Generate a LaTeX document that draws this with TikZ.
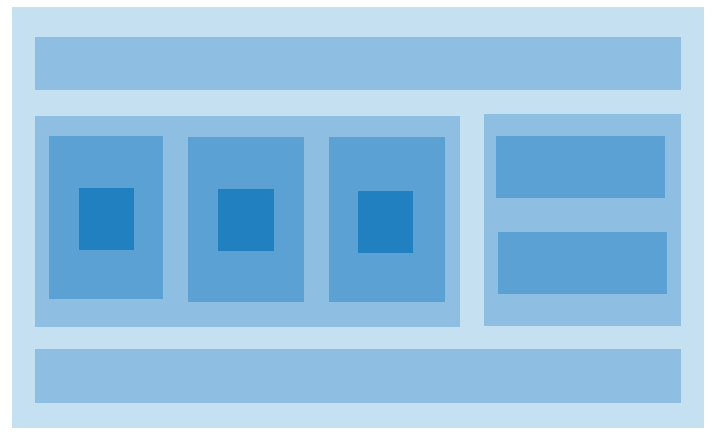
\documentclass[tikz,border=0pt]{standalone}
\definecolor{cOuter}{RGB}{197,224,241}
\definecolor{cMid}{RGB}{142,191,227}
\definecolor{cBox}{RGB}{91,161,212}
\definecolor{cDark}{RGB}{33,128,192}
\begin{document}
\begin{tikzpicture}[x=1pt,y=-1pt,
  outerbox/.style={fill=cOuter},
  midbox/.style={fill=cMid},
  box/.style={fill=cBox},
  darkbox/.style={fill=cDark}]
\useasboundingbox[fill=white] (0,0) rectangle (713,440);
\fill[outerbox] (12,7) rectangle (704,428);
\fill[midbox] (35,37) rectangle (681,90);
\fill[midbox] (35,116) rectangle (460,327);
\fill[midbox] (484,114) rectangle (681,326);
\fill[midbox] (35,349) rectangle (681,403);
\fill[box] (49,136) rectangle (163,299);
\fill[box] (188,137) rectangle (304,302);
\fill[box] (329,137) rectangle (445,302);
\fill[darkbox] (79,188) rectangle (134,250);
\fill[darkbox] (218,189) rectangle (274,251);
\fill[darkbox] (358,191) rectangle (413,253);
\fill[box] (496,136) rectangle (665,198);
\fill[box] (498,232) rectangle (667,294);
\end{tikzpicture}
\end{document}
